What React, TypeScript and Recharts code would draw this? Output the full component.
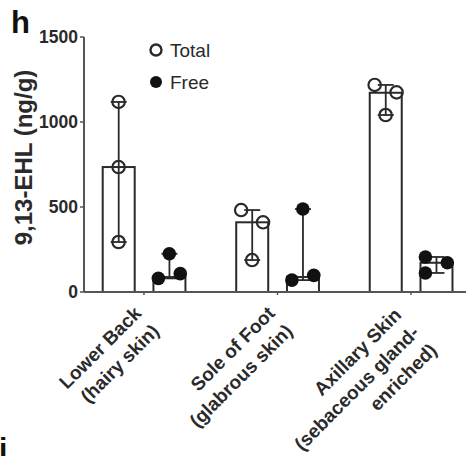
import React from 'react';
import { ComposedChart, Bar, Scatter, XAxis, YAxis, ErrorBar, Legend, Label } from 'recharts';

// ---- data ----
const categories = [
  'Lower Back\n(hairy skin)',
  'Sole of Foot\n(glabrous skin)',
  'Axillary Skin\n(sebaceous gland-\nenriched)',
];
const totalMedian = [735, 410, 1172];
const freeMedian = [88, 88, 172];
const totalValues = [
  [1118, 735, 294],
  [482, 410, 188],
  [1218, 1174, 1041],
];
const freeValues = [
  [80, 108, 225],
  [70, 98, 488],
  [206, 172, 112],
];
// jitter index of each point (-1 left, 0 centre, 1 right)
const totalJitter = [
  [0, 0, 0],
  [-1, 1, 0],
  [-1, 1, 0],
];
const freeJitter = [
  [-1, 1, 0],
  [-1, 1, 0],
  [-1, 1, -1],
];
const yTicks = [0, 500, 1000, 1500];
const legendLabels = ['Total', 'Free'];

// ---- layout constants ----
const GROUP_OFFSET = 0.19;
const JITTER = 0.082;
const BAR_W = 32;
const FONT = '"Liberation Sans", Arial, Helvetica, sans-serif';
const INK = '#2a2a2a';
const AXIS = '#555';

const barRows: any[] = [];
categories.forEach((_, i) => {
  const t = totalValues[i];
  const f = freeValues[i];
  barRows.push({
    x: i - GROUP_OFFSET,
    v: totalMedian[i],
    err: [totalMedian[i] - Math.min(...t), Math.max(...t) - totalMedian[i]],
  });
  barRows.push({
    x: i + GROUP_OFFSET,
    v: freeMedian[i],
    err: [freeMedian[i] - Math.min(...f), Math.max(...f) - freeMedian[i]],
  });
});

const totalPts: any[] = [];
const freePts: any[] = [];
categories.forEach((_, i) => {
  totalValues[i].forEach((v, k) =>
    totalPts.push({ x: i - GROUP_OFFSET + totalJitter[i][k] * JITTER, v })
  );
  freeValues[i].forEach((v, k) =>
    freePts.push({ x: i + GROUP_OFFSET + freeJitter[i][k] * JITTER, v })
  );
});

const XTick = (props: any) => {
  const { x, y, payload } = props;
  const lines = categories[payload.value].split('\n');
  const n = lines.length;
  const along = -17 - 6 * (n - 2);
  const perp = 15 - 4 * (n - 2);
  return (
    <g transform={`translate(${x},${y - 3}) rotate(-45)`}>
      <text
        textAnchor="end"
        fontFamily={FONT}
        fontWeight="bold"
        fontSize={19}
        fill={INK}
      >
        {lines.map((l, k) => (
          <tspan key={k} x={along} y={perp + k * 25}>
            {l}
          </tspan>
        ))}
      </text>
    </g>
  );
};

const BarShape = (props: any) => {
  const { x, y, width, height } = props;
  const cx = x + width / 2;
  return (
    <rect
      x={cx - BAR_W / 2}
      y={y}
      width={BAR_W}
      height={height}
      fill="#fff"
      stroke={INK}
      strokeWidth={2}
    />
  );
};

const OpenDot = (props: any) => (
  <circle cx={props.cx} cy={props.cy} r={6.2} fill="none" stroke={INK} strokeWidth={2.2} />
);
const FilledDot = (props: any) => (
  <circle cx={props.cx} cy={props.cy} r={6.8} fill="#111" />
);

const LegendContent = () => (
  <svg width={90} height={60} style={{ display: 'block' }}>
    <circle cx={8} cy={12} r={5.5} fill="none" stroke={INK} strokeWidth={2.4} />
    <text x={22} y={19} fontFamily={FONT} fontSize={19} fill={INK}>
      {legendLabels[0]}
    </text>
    <circle cx={8} cy={44} r={6} fill="#111" />
    <text x={22} y={51} fontFamily={FONT} fontSize={19} fill={INK}>
      {legendLabels[1]}
    </text>
  </svg>
);

export default function App() {
  return (
    <div style={{ position: 'absolute', left: 0, top: 0, width: 466, height: 456, background: '#fff' }}>
      <ComposedChart
        width={466}
        height={456}
        data={barRows}
        margin={{ top: 37, right: 0, bottom: 0, left: 0 }}
      >
        <XAxis
          dataKey="x"
          type="number"
          domain={[-0.449, 2.412]}
          ticks={[0, 1, 2]}
          allowDataOverflow
          interval={0}
          height={164}
          tickSize={3}
          tickMargin={0}
          axisLine={{ stroke: AXIS, strokeWidth: 2 }}
          tickLine={{ stroke: AXIS, strokeWidth: 1.5 }}
          tick={<XTick />}
        />
        <YAxis
          type="number"
          domain={[0, 1500]}
          ticks={yTicks}
          width={84}
          tickSize={4}
          tickMargin={2}
          axisLine={{ stroke: AXIS, strokeWidth: 2 }}
          tickLine={{ stroke: AXIS, strokeWidth: 1.5 }}
          tick={{ fontFamily: FONT, fontWeight: 'bold', fontSize: 17.5, fill: INK }}
        >
          <Label
            content={(p: any) => {
              const vb = p.viewBox || { x: 0, y: 37, width: 84, height: 255 };
              const cx = vb.x + 32;
              const cy = vb.y + vb.height / 2 - 7;
              return (
                <text
                  x={cx}
                  y={cy}
                  transform={`rotate(-90 ${cx} ${cy})`}
                  textAnchor="middle"
                  fontFamily={FONT}
                  fontWeight="bold"
                  fontSize={24}
                  fill={INK}
                >
                  9,13-EHL (ng/g)
                </text>
              );
            }}
          />
        </YAxis>
        <Legend
          layout="horizontal"
          verticalAlign="middle"
          align="center"
          content={<LegendContent />}
          wrapperStyle={{ position: 'absolute', left: 148, top: 38, width: 90, height: 60 }}
        />
        <Bar
          dataKey="v"
          fill="#fff"
          stroke={INK}
          strokeWidth={2}
          shape={<BarShape />}
          isAnimationActive={false}
        >
          <ErrorBar dataKey="err" width={8} stroke={INK} strokeWidth={1.8} direction="y" />
        </Bar>
        <Scatter data={totalPts} dataKey="v" shape={<OpenDot />} isAnimationActive={false} />
        <Scatter data={freePts} dataKey="v" shape={<FilledDot />} isAnimationActive={false} />
      </ComposedChart>
      <svg
        width={466}
        height={456}
        style={{ position: 'absolute', left: 0, top: 0, pointerEvents: 'none' }}
      >
        <text x={11} y={33} fontFamily={FONT} fontWeight="bold" fontSize={31} fill="#111">
          h
        </text>
        <text x={-1} y={459} fontFamily={FONT} fontWeight="bold" fontSize={30} fill="#111">
          i
        </text>
      </svg>
    </div>
  );
}
